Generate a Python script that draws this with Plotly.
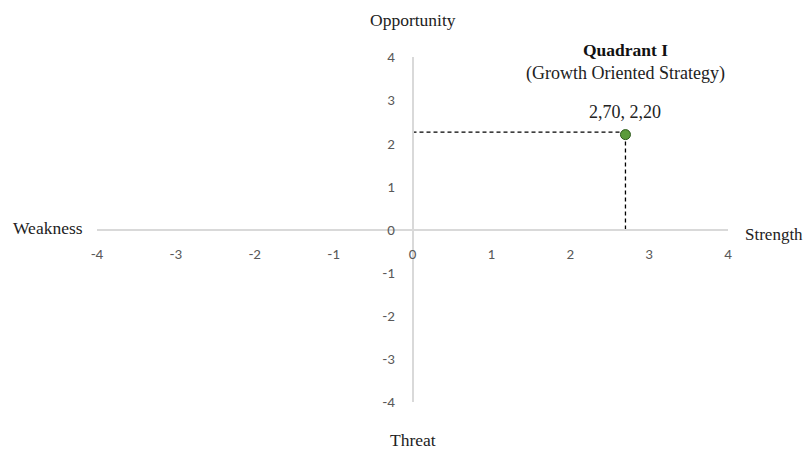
import plotly.graph_objects as go

# Data
point_x = [2.70]
point_y = [2.20]
point_label = "2,70, 2,20"
tick_vals = [-4, -3, -2, -1, 0, 1, 2, 3, 4]
tick_text = ["-4", "-3", "-2", "-1", "0", "1", "2", "3", "4"]
axis_titles = {"top": "Opportunity", "bottom": "Threat", "left": "Weakness", "right": "Strength"}
quadrant_title = "Quadrant I"
quadrant_sub = "(Growth Oriented Strategy)"

serif = "Liberation Serif, Times New Roman, serif"
sans = "Carlito, Open Sans, Liberation Sans, sans-serif"
fs = 17.5

fig = go.Figure()

# dashed guide lines
fig.add_trace(go.Scatter(x=[0, point_x[0]], y=[point_y[0] + 0.06, point_y[0] + 0.06], mode="lines",
                         line=dict(color="black", width=1.3, dash="4px,3px"), hoverinfo="skip"))
fig.add_trace(go.Scatter(x=[point_x[0], point_x[0]], y=[0, point_y[0]], mode="lines",
                         line=dict(color="black", width=1.3, dash="4px,3px"), hoverinfo="skip"))
# point
fig.add_trace(go.Scatter(x=point_x, y=point_y, mode="markers",
                         marker=dict(size=10, color="#5b9b3b", line=dict(color="#2f5a1e", width=1))))

fig.add_annotation(x=point_x[0], y=point_y[0], text=point_label, showarrow=False,
                   xanchor="center", yanchor="middle",
                   yshift=23, font=dict(family=serif, size=18, color="#222"))

common = dict(xref="paper", yref="paper", showarrow=False, xanchor="center", yanchor="middle")
fig.add_annotation(x=0.5, y=1, yshift=37, text=axis_titles["top"],
                   font=dict(family=serif, size=fs, color="#222"), **common)
fig.add_annotation(x=0.5, y=0, yshift=-38, text=axis_titles["bottom"],
                   font=dict(family=serif, size=fs, color="#222"), **common)
fig.add_annotation(x=0, y=0.5, xshift=-49, yshift=2, text=axis_titles["left"],
                   font=dict(family=serif, size=fs, color="#222"), **common)
fig.add_annotation(x=1, y=0.5, xshift=46, yshift=-5, text=axis_titles["right"],
                   font=dict(family=serif, size=17, color="#222"), **common)
fig.add_annotation(x=point_x[0], y=4, yref="y", text="<b>" + quadrant_title + "</b>", showarrow=False,
                   xanchor="center", yanchor="middle",
                   yshift=7, font=dict(family=serif, size=fs, color="#111"))
fig.add_annotation(x=point_x[0], y=4, yref="y", text=quadrant_sub, showarrow=False,
                   xanchor="center", yanchor="middle",
                   yshift=-16, font=dict(family=serif, size=18, color="#222"))

fig.update_layout(
    template="none",
    width=803, height=442,
    margin=dict(l=89, r=83, t=49, b=48),
    paper_bgcolor="white", plot_bgcolor="white",
    showlegend=False,
    xaxis=dict(range=[-4, 4], anchor="free", position=0.5, showgrid=False, zeroline=False,
               automargin=False,
               showline=True, linecolor="#d9d9d9", linewidth=1.5,
               tickmode="array", tickvals=tick_vals, ticktext=tick_text,
               ticks="", ticklabelstandoff=11,
               tickfont=dict(family=sans, size=15, color="#595959")),
    yaxis=dict(range=[-4, 4], anchor="free", position=0.5, showgrid=False, zeroline=False,
               automargin=False,
               showline=True, linecolor="#d9d9d9", linewidth=1.5,
               tickmode="array", tickvals=tick_vals, ticktext=tick_text,
               ticks="", ticklabelstandoff=14,
               tickfont=dict(family=sans, size=15, color="#595959")),
)

fig.write_html("out.html")
